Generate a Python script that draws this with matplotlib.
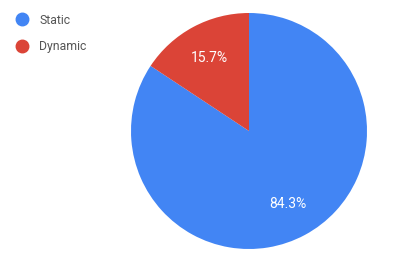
import matplotlib
matplotlib.use("Agg")
import matplotlib.pyplot as plt
from matplotlib.lines import Line2D

# data
labels = ["Static", "Dynamic"]
values = [84.3, 15.7]
colors = ["#4285F4", "#DB4437"]

plt.rcParams['font.family'] = ['Roboto', 'DejaVu Sans']

fig = plt.figure(figsize=(4.15, 2.63), dpi=100)
ax = fig.add_axes([131/415, 14/263, 236/415, 236/263])

wedges, texts, autotexts = ax.pie(values, colors=colors, startangle=90, counterclock=False,
                                  autopct='%1.1f%%', pctdistance=0.7, radius=1.0,
                                  wedgeprops=dict(linewidth=0),
                                  textprops=dict(color='white', fontsize=10))
ax.set_xlim(-1, 1)
ax.set_ylim(-1, 1)
ax.set_aspect('equal')

# legend
handles = [Line2D([0], [0], marker='o', linestyle='', markersize=9,
                  markerfacecolor=c, markeredgecolor=c) for c in colors]
fig.legend(handles, labels, loc='upper left', bbox_to_anchor=(0.0, 0.985),
           frameon=False, fontsize=8.8, handletextpad=0.4, labelspacing=1.1,
           borderaxespad=0.4, labelcolor='#555555')

fig.savefig("out.png", dpi=100)
